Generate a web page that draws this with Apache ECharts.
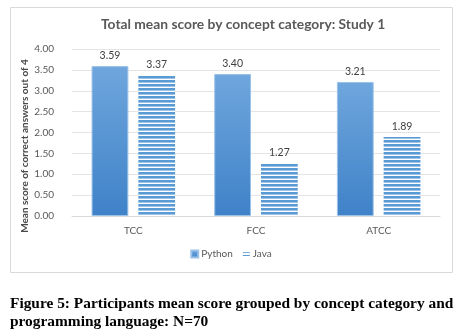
<!DOCTYPE html>
<html><head><meta charset="utf-8">
<script src="https://cdn.jsdelivr.net/npm/echarts@6/dist/echarts.min.js"></script>
<style>html,body{margin:0;padding:0;background:#fff}#c{width:462px;height:335px}</style>
</head><body><div id="c"></div>
<script>
var categories = ['TCC', 'FCC', 'ATCC'];
var pythonValues = [3.59, 3.40, 3.21];
var javaValues = [3.37, 1.27, 1.89];
var seriesNames = ['Python', 'Java'];
var titleText = 'Total mean score by concept category: Study 1';
var yAxisTitle = 'Mean score of correct answers out of 4';
var captionLines = ['Figure 5: Participants mean score grouped by concept category and', 'programming language: N=70'];

var pc = document.createElement('canvas');
pc.width = 4; pc.height = 4;
var ctx = pc.getContext('2d');
ctx.fillStyle = '#ffffff'; ctx.fillRect(0,0,4,4);
ctx.fillStyle = '#5b9bd5'; ctx.fillRect(0,0,4,2.6);

var chart = echarts.init(document.getElementById('c'), null, {renderer:'canvas'});
var font = 'Lato, "Open Sans", sans-serif';
chart.setOption({
  animation: false,
  title: {text: titleText, left: 96, top: 13, textStyle: {fontFamily: font, fontSize: 13.8, fontWeight: 'bold', color: '#595959'}},
  grid: {left: 72, right: 22, top: 49, bottom: 119},
  legend: {bottom: 71, left: 'center', itemWidth: 7, itemHeight: 7, itemGap: 10,
    data: [{name: seriesNames[0], icon: 'rect'}, {name: seriesNames[1], icon: 'path://M0,3H10V4.5H0ZM0,7H10V8.5H0Z'}],
    textStyle: {fontFamily: font, fontSize: 10, color: '#595959', padding: [0,0,0,-2]}},
  xAxis: {type: 'category', data: categories, axisLine: {lineStyle: {color: '#d9d9d9'}}, axisTick: {show: false},
    axisLabel: {fontFamily: font, fontSize: 10, color: '#595959', margin: 10}},
  yAxis: {type: 'value', min: 0, max: 4, interval: 0.5, axisLine: {show: false}, axisTick: {show: false},
    splitLine: {lineStyle: {color: '#e4e4e4'}},
    axisLabel: {fontFamily: font, fontSize: 10, color: '#595959', margin: 18, formatter: function(v){return v.toFixed(2);}}},
  series: [
    {name: seriesNames[0], type: 'bar', data: pythonValues, barWidth: '30%', barGap: '27%',
      itemStyle: {color: new echarts.graphic.LinearGradient(0,0,0,1,[{offset:0,color:'#6fa6dd'},{offset:1,color:'#3f82c8'}]), borderColor: '#9cc2e8', borderWidth: 1},
      label: {show: true, position: 'top', distance: 5, fontFamily: font, fontSize: 10.5, color: '#404040', formatter: function(p){return p.value.toFixed(2);}}},
    {name: seriesNames[1], type: 'bar', data: javaValues, barWidth: '30%',
      itemStyle: {color: {image: pc, repeat: 'repeat'}},
      label: {show: true, position: 'top', distance: 5, fontFamily: font, fontSize: 10.5, color: '#404040', formatter: function(p){return p.value.toFixed(2);}}}
  ],
  graphic: [
    {type: 'rect', shape: {x: 10.5, y: 7.5, width: 442, height: 265}, style: {fill: null, stroke: '#d9d9d9', lineWidth: 1}, silent: true, z: -1},
    {type: 'text', x: 25, y: 146, rotation: Math.PI/2, style: {text: yAxisTitle, fontFamily: font, fontSize: 10, fontWeight: 'bold', fill: '#4a4a4a', align: 'center', verticalAlign: 'middle'}},
    {type: 'text', x: 10, y: 304, style: {text: captionLines[0], fontFamily: '"Liberation Serif", serif', fontSize: 15.4, fontWeight: 'bold', fill: '#000', verticalAlign: 'middle'}},
    {type: 'text', x: 10, y: 322, style: {text: captionLines[1], fontFamily: '"Liberation Serif", serif', fontSize: 15.4, fontWeight: 'bold', fill: '#000', verticalAlign: 'middle'}}
  ]
});
</script></body></html>
